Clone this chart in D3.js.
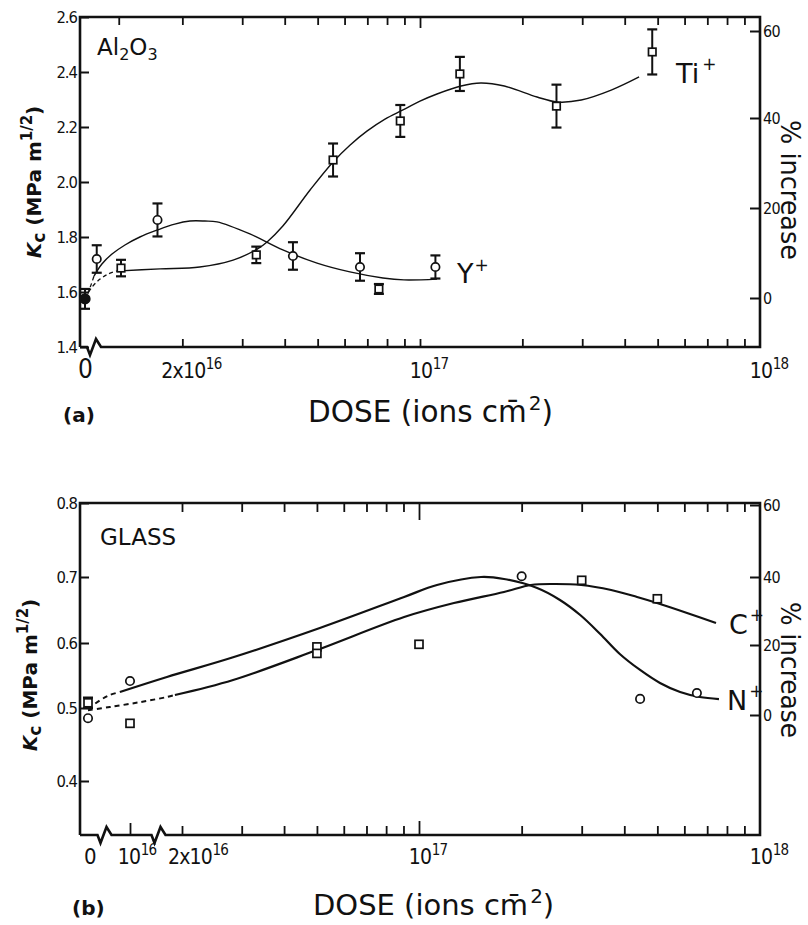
<!DOCTYPE html>
<html><head><meta charset="utf-8">
<script src="https://cdn.jsdelivr.net/npm/d3@7"></script>
<style>
body{margin:0;background:#fff}
svg{display:block;background:#fff}
</style></head><body>
<svg id="chart" width="808" height="925"></svg>
<script>
// ================= DATA =================
// Panel (a): Al2O3
const tiDose = [1.32e16, 3.3e16, 5.55e16, 7.57e16, 8.75e16, 1.31e17, 2.52e17, 4.82e17];
const tiKc   = [1.687, 1.735, 2.08, 1.611, 2.222, 2.393, 2.276, 2.473];
const tiErr  = [0.03, 0.03, 0.06, 0.018, 0.058, 0.062, 0.078, 0.082];

const yDose = [1.12e16, 1.69e16, 4.23e16, 6.66e16, 1.11e17];
const yKc   = [1.72, 1.862, 1.731, 1.691, 1.691];
const yErr  = [0.05, 0.06, 0.05, 0.05, 0.042];

const baseDose = [0];
const baseKc   = [1.575];
const baseErr  = [0.036];

const tiDashDose = [0, 0.85e16, 1.145e16, 1.21e16, 1.276e16];
const tiDashKc   = [1.578, 1.618, 1.647, 1.665, 1.676];
const tiLineDose = [1.276e16, 1.72e16, 2.25e16, 2.82e16, 3.32e16, 3.55e16, 3.95e16, 4.75e16, 5.55e16, 6.22e16, 6.98e16, 7.89e16, 8.91e16, 1e17, 1.122e17, 1.32e17, 1.51e17, 1.77e17, 2.21e17, 2.53e17, 2.98e17, 3.65e17, 4.41e17];
const tiLineKc   = [1.676, 1.684, 1.691, 1.716, 1.756, 1.782, 1.84, 1.971, 2.073, 2.134, 2.185, 2.229, 2.262, 2.294, 2.32, 2.349, 2.36, 2.349, 2.309, 2.291, 2.298, 2.334, 2.382];

const yDashDose = [0, 0.6e16, 1.09e16];
const yDashKc   = [1.571, 1.615, 1.658];
const yLineDose = [1.09e16, 1.16e16, 1.242e16, 1.356e16, 1.5e16, 1.685e16, 1.9e16, 2.106e16, 2.33e16, 2.53e16, 3.16e16, 3.95e16, 4.98e16, 6.22e16, 7.78e16, 8.97e16, 1.122e17];
const yLineKc   = [1.658, 1.702, 1.738, 1.771, 1.80, 1.825, 1.847, 1.858, 1.858, 1.855, 1.811, 1.753, 1.705, 1.673, 1.651, 1.644, 1.647];

// Panel (b): glass
const nDose = [0, 1e16, 2e17, 4.45e17, 6.53e17];
const nKc   = [0.486, 0.5415, 0.701, 0.514, 0.523];

const cDose = [0, 1e16, 5e16, 5e16, 1e17, 3e17, 5e17];
const cKc   = [0.508, 0.479, 0.594, 0.584, 0.598, 0.695, 0.667];
const cErr  = [0.008, 0, 0, 0, 0, 0, 0];

const nDashDose = [0, 2.9e15, 5.2e15, 7.6e15];
const nDashKc   = [0.499, 0.512, 0.520, 0.5246];
const nLineDose = [7.6e15, 1.636e16, 2.83e16, 5.1e16, 9.04e16, 1.129e17, 1.52e17, 1.775e17, 2.22e17, 2.59e17, 2.97e17, 3.4e17, 3.88e17, 4.45e17, 5.09e17, 5.83e17, 6.66e17, 7.58e17];
const nLineKc   = [0.5246, 0.5477, 0.578, 0.6227, 0.6697, 0.6879, 0.7, 0.697, 0.6833, 0.6652, 0.6424, 0.6136, 0.5831, 0.5585, 0.5385, 0.5246, 0.5169, 0.5138];

const cDashDose = [0, 5.2e15, 1.142e16, 1.636e16, 1.82e16];
const cDashKc   = [0.497, 0.5015, 0.509, 0.5169, 0.52];
const cLineDose = [1.82e16, 2.83e16, 5.0e16, 9.04e16, 1.266e17, 1.775e17, 2.13e17, 2.49e17, 2.99e17, 3.66e17, 4.36e17, 4.99e17, 6.11e17, 7.43e17];
const cLineKc   = [0.52, 0.5431, 0.5892, 0.6394, 0.6606, 0.6773, 0.6879, 0.6894, 0.6879, 0.6803, 0.6697, 0.6606, 0.6455, 0.6303];

// Tick values / labels
const kcTicksA = [1.4, 1.6, 1.8, 2.0, 2.2, 2.4, 2.6];
const kcTicksB = [0.4, 0.5, 0.6, 0.7, 0.8];
const pctTicks = [0, 20, 40, 60];
const minorDosesA = [1.3e16, 2e16, 3e16, 4e16, 5e16, 6e16, 7e16, 8e16, 9e16, 2e17, 3e17, 4e17, 5e17, 6e17, 7e17, 8e17, 9e17];
const minorDosesB = [2e16, 3e16, 4e16, 5e16, 6e16, 7e16, 8e16, 9e16, 2e17, 3e17, 4e17, 5e17, 6e17, 7e17, 8e17, 9e17];
const majorDose = [1e17];
const xLabDoseA = [0, 2e16, 1e17, 1e18];
const xLabBaseA = ["0", "2x10", "10", "10"];
const xLabExpA  = ["", "16", "17", "18"];
const xLabDoseB = [0, 1e16, 2e16, 1e17, 1e18];
const xLabBaseB = ["0", "10", "2x10", "10", "10"];
const xLabExpB  = ["", "16", "16", "17", "18"];

// ================= LAYOUT =================
const FONT = '"DejaVu Sans", "Liberation Sans", sans-serif';
const COND = '"DejaVu Sans Condensed", "Liberation Sans Narrow", "DejaVu Sans", sans-serif';
const INK = "#111";
const svg = d3.select("#chart");

const PA = {left:80, right:760, top:17, bottom:347};
const PB = {left:80, right:760, top:503, bottom:835};

// scales panel a
const xALog = d3.scaleLog().domain([1e16, 1e18]).range([PA.left, PA.right]);
const xALow = d3.scaleLinear().domain([0, 1.1e16]).range([85, xALog(1.1e16)]);
const xA = d => d < 1.1e16 ? xALow(d) : xALog(d);
const yA = d3.scaleLinear().domain([1.4, 2.6]).range([PA.bottom, PA.top]);
const yAR = d3.scaleLinear().domain([0, 20, 40, 60]).range([298, 208, 118, 31]);

// scales panel b
const xBLog = d3.scaleLog().domain([1e16, 2e16, 1e17, 1e18]).range([130, 182, 419, PB.right]);
const xBLow = d3.scaleLinear().domain([0, 1e16]).range([88, 130]);
const xB = d => d < 1e16 ? xBLow(d) : xBLog(d);
const yB = d3.scaleLinear().domain([0.4, 0.5, 0.6, 0.7, 0.8]).range([781, 708, 643, 577, 503]);
const yBR = d3.scaleLinear().domain([0, 20, 40, 60]).range([715, 645, 577, 505]);

const zip = (a, b) => a.map((v, i) => [v, b[i]]);

function richText(parent, x, y, parts, size, attrs) {
  const t = parent.append("text").attr("x", x).attr("y", y)
    .attr("font-size", size).attr("font-family", FONT).attr("fill", INK);
  Object.entries(attrs || {}).forEach(([k, v]) => t.attr(k, v));
  let cur = 0;
  parts.forEach(p => {
    const sh = p.shift || 0;
    const ts = t.append("tspan").text(p.t).attr("dy", sh - cur);
    if (p.size) ts.attr("font-size", p.size);
    if (p.style) ts.attr("font-style", p.style);
    if (p.weight) ts.attr("font-weight", p.weight);
    if (p.dx) ts.attr("dx", p.dx);
    cur = sh;
  });
  return t;
}

function frame(g, P, breaks) {
  const pts = [[P.left, P.bottom], [P.left, P.top], [P.right, P.top], [P.right, P.bottom]];
  breaks.slice().sort((a, b) => b - a).forEach(cx => {
    pts.push([cx + 7, P.bottom], [cx + 2, P.bottom - 8], [cx - 4, P.bottom + 8], [cx - 7, P.bottom]);
  });
  pts.push([P.left, P.bottom]);
  g.append("path").attr("d", d3.line()(pts)).attr("fill", "none")
    .attr("stroke", INK).attr("stroke-width", 2.6).attr("stroke-linejoin", "miter");
}

function xTicks(g, scale, P, minor, major, len, majorLen, minorBottom) {
  const mk = (axisFn, vals, L, y) => {
    const a = g.append("g").attr("transform", `translate(0,${y})`)
      .call(axisFn(scale).tickValues(vals).tickSize(L).tickFormat(""));
    a.select(".domain").remove();
    a.selectAll("line").attr("stroke", INK).attr("stroke-width", 1.8);
  };
  mk(d3.axisBottom, minor, len, P.top);
  mk(d3.axisBottom, major, majorLen, P.top);
  mk(d3.axisTop, minorBottom, len, P.bottom);
  mk(d3.axisTop, major, majorLen - 3, P.bottom);
}

function yAxes(g, yL, yR, P, ticksL, fmtL) {
  const l = g.append("g").attr("transform", `translate(${P.left},0)`)
    .call(d3.axisLeft(yL).tickValues(ticksL).tickSize(-9).tickPadding(3).tickFormat(fmtL));
  l.select(".domain").remove();
  l.selectAll("line").attr("stroke", INK).attr("stroke-width", 2);
  l.attr("font-size", 16.5).attr("font-family", COND);
  l.selectAll("text").attr("fill", INK).attr("letter-spacing", -1);
  const r = g.append("g").attr("transform", `translate(${P.right},0)`)
    .call(d3.axisRight(yR).tickValues(pctTicks).tickSize(-10).tickPadding(3));
  r.select(".domain").remove();
  r.selectAll("line").attr("stroke", INK).attr("stroke-width", 2);
  r.attr("font-size", 16).attr("font-family", COND);
  r.selectAll("text").attr("fill", INK).attr("letter-spacing", -0.6);
}

function xLabels(g, scale, doses, bases, exps, y, dxs, zeroSize) {
  doses.forEach((d, i) => {
    const x = scale(d) + (dxs[i] || 0);
    const t = g.append("text").attr("x", x).attr("y", y).attr("text-anchor", "middle")
      .attr("font-family", COND).attr("font-size", bases[i] === "0" ? zeroSize : 21)
      .attr("fill", INK).attr("letter-spacing", -0.8).text(bases[i]);
    if (exps[i]) {
      const w = t.node().getComputedTextLength();
      g.append("text").attr("x", x + w / 2 + 0.5).attr("y", y - 9)
        .attr("font-family", COND).attr("font-size", 15).attr("fill", INK)
        .attr("letter-spacing", -0.8).text(exps[i]);
    }
  });
}

function curve(g, xs, ys, xS, yS, width, dash) {
  const line = d3.line().x(d => xS(d[0])).y(d => yS(d[1])).curve(d3.curveCatmullRom.alpha(0.5));
  const p = g.append("path").attr("d", line(zip(xs, ys))).attr("fill", "none")
    .attr("stroke", INK).attr("stroke-width", width).attr("stroke-linecap", "butt");
  if (dash) p.attr("stroke-dasharray", dash);
}

function errBars(g, xs, ys, es, xS, yS) {
  xs.forEach((d, i) => {
    if (!es[i]) return;
    const x = xS(d), y1 = yS(ys[i] - es[i]), y2 = yS(ys[i] + es[i]);
    g.append("line").attr("x1", x).attr("x2", x).attr("y1", y1).attr("y2", y2)
      .attr("stroke", INK).attr("stroke-width", 2);
    [y1, y2].forEach(yy => g.append("line").attr("x1", x - 5).attr("x2", x + 5)
      .attr("y1", yy).attr("y2", yy).attr("stroke", INK).attr("stroke-width", 2.2));
  });
}

function squares(g, xs, ys, xS, yS, s) {
  g.selectAll(null).data(zip(xs, ys)).enter().append("rect")
    .attr("x", d => xS(d[0]) - s / 2).attr("y", d => yS(d[1]) - s / 2)
    .attr("width", s).attr("height", s).attr("fill", "#fff")
    .attr("stroke", INK).attr("stroke-width", 1.7);
}
function circles(g, xs, ys, xS, yS, r, fill) {
  g.selectAll(null).data(zip(xs, ys)).enter().append("circle")
    .attr("cx", d => xS(d[0])).attr("cy", d => yS(d[1])).attr("r", r)
    .attr("fill", fill || "#fff").attr("stroke", INK).attr("stroke-width", 1.7);
}

const titleParts = [{t: "DOSE (ions cm\u0304"}, {t: "2", size: 20, shift: -12, dx: 2}, {t: ")"}];
const kcParts = [{t: "K", style: "italic"}, {t: "c", size: 17, shift: 4}, {t: " (MPa m"}, {t: "1/2", size: 15, shift: -9}, {t: ")"}];

// ================= PANEL A =================
const gA = svg.append("g");
xTicks(gA, xALog, PA, minorDosesA, majorDose, 8, 11, minorDosesA.slice(1));
yAxes(gA, yA, yAR, PA, kcTicksA, d3.format(".1f"));
frame(gA, PA, [94]);

curve(gA, tiDashDose, tiDashKc, xA, yA, 1.3, "4,3");
curve(gA, tiLineDose, tiLineKc, xA, yA, 1.4);
curve(gA, yDashDose, yDashKc, xA, yA, 1.3, "4,3");
curve(gA, yLineDose, yLineKc, xA, yA, 1.4);

errBars(gA, tiDose, tiKc, tiErr, xA, yA);
errBars(gA, yDose, yKc, yErr, xA, yA);
errBars(gA, baseDose, baseKc, baseErr, xA, yA);
squares(gA, tiDose, tiKc, xA, yA, 7.5);
circles(gA, yDose, yKc, xA, yA, 4.2);
circles(gA, baseDose, baseKc, xA, yA, 4.8, INK);

xLabels(gA, xA, xLabDoseA, xLabBaseA, xLabExpA, 378, [0, 1, 1, 1], 26);

richText(gA, 97, 55, [{t: "Al"}, {t: "2", size: 16, shift: 5}, {t: "O"}, {t: "3", size: 16, shift: 5}], 23);
richText(gA, 676, 83, [{t: "Ti"}, {t: "+", size: 17, shift: -13, dx: 3}], 27);
richText(gA, 457, 283, [{t: "Y"}, {t: "+", size: 17, shift: -12, dx: 1}], 27);
richText(gA, 63, 422, [{t: "(a)"}], 20, {"font-weight": "bold"});
richText(gA, 308, 422, titleParts, 29.5);
richText(gA, 0, 0, kcParts, 20,
  {"font-weight": "bold", "text-anchor": "middle", "transform": "translate(41,182) rotate(-90)"});
richText(gA, 0, 0, [{t: "% increase"}], 26,
  {"text-anchor": "middle", "transform": "translate(781,190) rotate(90)", "textLength": 140, "lengthAdjust": "spacingAndGlyphs"});

// ================= PANEL B =================
const gB = svg.append("g");
xTicks(gB, xBLog, PB, minorDosesB, majorDose, 9, 17, minorDosesB);
(function () {
  const a = gB.append("g").attr("transform", `translate(0,${PB.bottom})`)
    .call(d3.axisTop(xBLog).tickValues([1e16]).tickSize(12).tickFormat(""));
  a.select(".domain").remove();
  a.selectAll("line").attr("stroke", INK).attr("stroke-width", 1.8);
})();
yAxes(gB, yB, yBR, PB, kcTicksB, d3.format(".1f"));
frame(gB, PB, [104.5, 158.5]);

curve(gB, nDashDose, nDashKc, xB, yB, 2, "5,4");
curve(gB, nLineDose, nLineKc, xB, yB, 2.2);
curve(gB, cDashDose, cDashKc, xB, yB, 2, "5,4");
curve(gB, cLineDose, cLineKc, xB, yB, 2.2);

errBars(gB, cDose, cKc, cErr, xB, yB);
squares(gB, cDose, cKc, xB, yB, 8);
circles(gB, nDose, nKc, xB, yB, 4.2);

xLabels(gB, xB, xLabDoseB, xLabBaseB, xLabExpB, 864, [2, -1, 8, 1, 1], 22);

richText(gB, 100, 545, [{t: "GLASS"}], 23);
richText(gB, 729, 634, [{t: "C"}, {t: "+", size: 17, shift: -13, dx: 2}], 27);
richText(gB, 727, 710, [{t: "N"}, {t: "+", size: 17, shift: -13, dx: 2}], 27);
richText(gB, 72, 915, [{t: "(b)"}], 20, {"font-weight": "bold"});
richText(gB, 313, 915, titleParts, 29);
richText(gB, 0, 0, kcParts, 20,
  {"font-weight": "bold", "text-anchor": "middle", "transform": "translate(37,675) rotate(-90)"});
richText(gB, 0, 0, [{t: "% increase"}], 26,
  {"text-anchor": "middle", "transform": "translate(781,670) rotate(90)", "textLength": 136, "lengthAdjust": "spacingAndGlyphs"});
</script>
</body></html>
